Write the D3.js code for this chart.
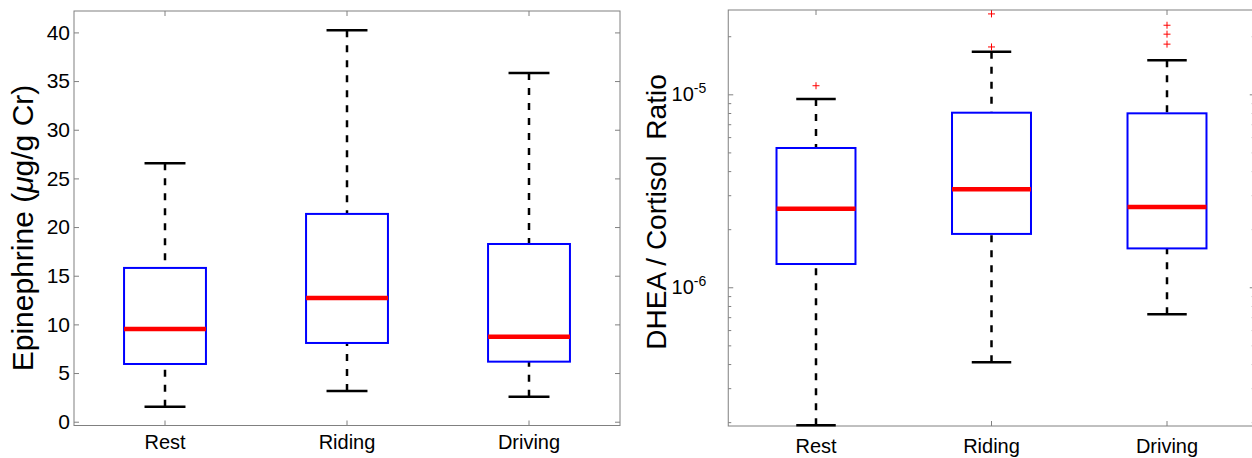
<!DOCTYPE html>
<html>
<head>
<meta charset="utf-8">
<script src="https://cdn.jsdelivr.net/npm/d3@7"></script>
<style>
  body { margin: 0; background: #fff; }
  svg { display: block; font-family: "Liberation Sans", Arial, sans-serif; }
  .tick line { stroke: #808080; }
</style>
</head>
<body>
<div id="chart"></div>
<script>
const width = 1252;
const height = 458;

const categories = ["Rest", "Riding", "Driving"];

// Epinephrine (ug/g Cr)
const epiLow = [1.54, 3.16, 2.57];
const epiQ1 = [5.93, 8.09, 6.17];
const epiMedian = [9.53, 12.71, 8.74];
const epiQ3 = [15.8, 21.35, 18.26];
const epiHigh = [26.56, 40.23, 35.84];
const epiOutliers = [[], [], []];
const epiTicks = [0, 5, 10, 15, 20, 25, 30, 35, 40];

// DHEA / Cortisol ratio
const ratioLow = [1.93e-7, 4.09e-7, 7.25e-7];
const ratioQ1 = [1.32e-6, 1.89e-6, 1.59e-6];
const ratioMedian = [2.55e-6, 3.22e-6, 2.61e-6];
const ratioQ3 = [5.27e-6, 8.03e-6, 7.97e-6];
const ratioHigh = [9.45e-6, 1.66e-5, 1.50e-5];
const ratioOutliers = [[1.108e-5], [1.76e-5, 2.61e-5], [1.82e-5, 2.05e-5, 2.28e-5]];
const ratioTicks = [1e-6, 1e-5];

let svg = d3.select("#chart").append("svg")
    .attr("width", width)
    .attr("height", height);

function boxPanel(opt) {
    const g = svg.append("g");
    const x = d3.scaleBand().domain(categories).range([opt.left, opt.right]);
    const y = opt.y;
    const bw = x.bandwidth();

    let rows = categories.map((c, i) => ({
        cat: c, lo: opt.lo[i], q1: opt.q1[i], med: opt.med[i],
        q3: opt.q3[i], hi: opt.hi[i], out: opt.out[i]
    }));

    // frame
    g.append("rect")
        .attr("x", opt.left).attr("y", y.range()[1])
        .attr("width", opt.right - opt.left)
        .attr("height", y.range()[0] - y.range()[1])
        .attr("fill", "none").attr("stroke", "#808080").attr("stroke-width", 1);

    // axes, ticks pointing inward
    let yAx = g.append("g")
        .attr("transform", `translate(${opt.left},0)`)
        .call(d3.axisLeft(y).tickValues(opt.ticks).tickSizeInner(-5).tickSizeOuter(0).tickPadding(4)
            .tickFormat(opt.fmt ? "" : d3.format("d")));
    g.append("g")
        .attr("transform", `translate(${opt.right},0)`)
        .call(d3.axisRight(y).tickValues(opt.ticks).tickSizeInner(-5).tickSizeOuter(0).tickFormat(""));
    if (opt.minor) {
        g.append("g").attr("transform", `translate(${opt.left},0)`)
            .call(d3.axisLeft(y).tickValues(opt.minor).tickSizeInner(-3).tickSizeOuter(0).tickFormat(""));
        g.append("g").attr("transform", `translate(${opt.right},0)`)
            .call(d3.axisRight(y).tickValues(opt.minor).tickSizeInner(-3).tickSizeOuter(0).tickFormat(""));
    }
    let xAx = g.append("g")
        .attr("transform", `translate(0,${y.range()[0]})`)
        .call(d3.axisBottom(x).tickSizeInner(-5).tickSizeOuter(0).tickPadding(opt.xPad));
    g.append("g")
        .attr("transform", `translate(0,${y.range()[1]})`)
        .call(d3.axisTop(x).tickSizeInner(-5).tickSizeOuter(0).tickFormat(""));

    g.selectAll(".domain").remove();
    yAx.selectAll("text").style("font-size", "21px").attr("fill", "#000");
    xAx.selectAll("text").style("font-size", "20px").attr("fill", "#000");

    if (opt.fmt) {
        yAx.selectAll(".tick").each(function(d) {
            let t = d3.select(this).append("text")
                .attr("x", -22).attr("dy", "0.32em")
                .attr("text-anchor", "end")
                .attr("fill", "#000")
                .style("font-size", "20px");
            t.append("tspan").text("10");
            t.append("tspan").attr("dy", "-0.6em").style("font-size", "14px")
                .text(Math.round(Math.log10(d)));
        });
    }

    // whiskers
    let box = g.selectAll(".box").data(rows).enter().append("g").attr("class", "box");
    box.append("line")
        .attr("x1", d => x(d.cat) + bw / 2).attr("x2", d => x(d.cat) + bw / 2)
        .attr("y1", d => y(d.hi)).attr("y2", d => y(d.q3))
        .attr("stroke", "#000").attr("stroke-width", 2.5).attr("stroke-dasharray", "7,8");
    box.append("line")
        .attr("x1", d => x(d.cat) + bw / 2).attr("x2", d => x(d.cat) + bw / 2)
        .attr("y1", d => y(d.lo)).attr("y2", d => y(d.q1))
        .attr("stroke", "#000").attr("stroke-width", 2.5).attr("stroke-dasharray", "7,8");
    ["hi", "lo"].forEach(k => {
        box.append("line")
            .attr("x1", d => x(d.cat) + bw * 0.3875).attr("x2", d => x(d.cat) + bw * 0.6125)
            .attr("y1", d => y(d[k])).attr("y2", d => y(d[k]))
            .attr("stroke", "#000").attr("stroke-width", 2.5);
    });
    box.append("rect")
        .attr("x", d => x(d.cat) + bw * 0.275)
        .attr("width", bw * 0.45)
        .attr("y", d => y(d.q3))
        .attr("height", d => y(d.q1) - y(d.q3))
        .attr("fill", "none").attr("stroke", "#0000ff").attr("stroke-width", 2);
    box.append("line")
        .attr("x1", d => x(d.cat) + bw * 0.275).attr("x2", d => x(d.cat) + bw * 0.725)
        .attr("y1", d => y(d.med)).attr("y2", d => y(d.med))
        .attr("stroke", "#ff0000").attr("stroke-width", 4.5);

    // outliers as red plus signs
    box.each(function(d) {
        d3.select(this).selectAll(".out").data(d.out).enter().append("path")
            .attr("class", "out")
            .attr("transform", v => `translate(${x(d.cat) + bw / 2},${y(v)})`)
            .attr("d", "M-3.5,0H3.5M0,-3.5V3.5")
            .attr("stroke", "#ff0000").attr("stroke-width", 1);
    });

    // y label
    g.append("text")
        .attr("transform", `translate(${opt.labelX},${opt.labelY}) rotate(-90)`)
        .attr("text-anchor", "middle")
        .style("font-size", opt.labelSize + "px")
        .style("white-space", "pre")
        .attr("fill", "#000")
        .html(opt.label);
}

boxPanel({
    left: 74, right: 620,
    y: d3.scaleLinear().domain([-0.39, 42.2]).range([425.5, 11]),
    ticks: epiTicks,
    lo: epiLow, q1: epiQ1, med: epiMedian, q3: epiQ3, hi: epiHigh, out: epiOutliers,
    xPad: 9,
    label: 'Epinephrine (<tspan font-style="italic">μ</tspan>g/g Cr)',
    labelX: 33, labelY: 228, labelSize: 30
});

let minor = [];
[1e-7, 1e-6, 1e-5].forEach(p => {
    for (let m = 2; m <= 9; m++) minor.push(m * p);
});

let ry = d3.scaleLog().domain([1.91e-7, 2.735e-5]).range([426, 10]);
boxPanel({
    left: 728.25, right: 1254.75,
    y: ry,
    ticks: ratioTicks,
    minor: minor.filter(v => v > 1.91e-7 && v < 2.735e-5),
    fmt: true,
    lo: ratioLow, q1: ratioQ1, med: ratioMedian, q3: ratioQ3, hi: ratioHigh, out: ratioOutliers,
    xPad: 13,
    label: "DHEA / Cortisol  Ratio",
    labelX: 666, labelY: 212, labelSize: 28
});
</script>
</body>
</html>
